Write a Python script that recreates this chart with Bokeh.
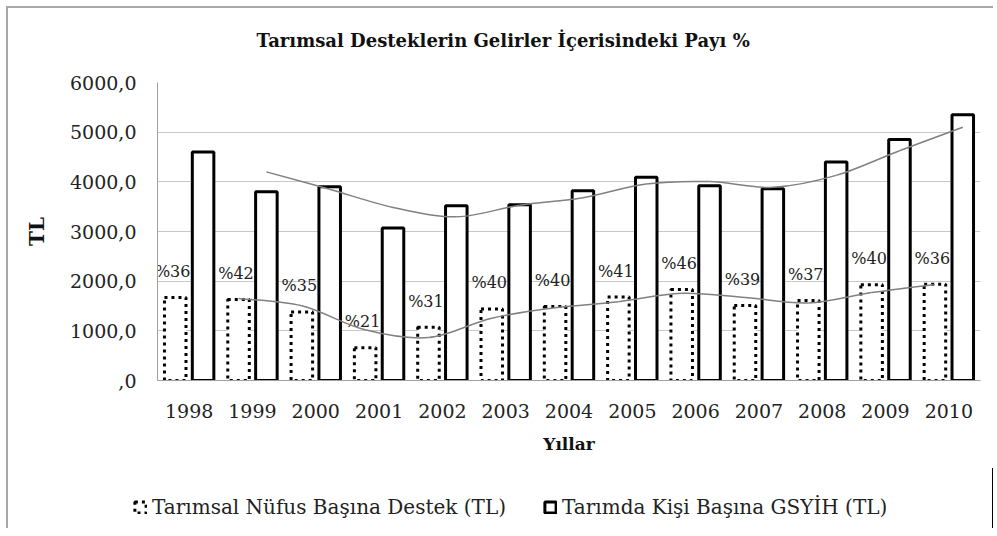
import numpy as np
from bokeh.plotting import figure
from bokeh.layouts import column
from bokeh.models import (ColumnDataSource, Range1d, FixedTicker, Legend, LegendItem,
                          Label)
from bokeh.transform import dodge
from bokeh.core.properties import value
from bokeh.embed import file_html
from bokeh.resources import INLINE

# ---- data ----
years = [1998, 1999, 2000, 2001, 2002, 2003, 2004, 2005, 2006, 2007, 2008, 2009, 2010]
year_labels = ["1998", "1999", "2000", "2001", "2002", "2003", "2004", "2005",
               "2006", "2007", "2008", "2009", "2010"]
destek = [1670, 1630, 1380, 660, 1070, 1440, 1490, 1680, 1830, 1510, 1610, 1930, 1940]
gsyih = [4600, 3800, 3900, 3070, 3520, 3540, 3820, 4090, 3920, 3860, 4400, 4850, 5350]
pay_labels = ["%36", "%42", "%35", "%21", "%31", "%40", "%40", "%41", "%46", "%39",
              "%37", "%40", "%36"]
y_ticks = [0, 1000, 2000, 3000, 4000, 5000, 6000]
y_tick_labels = [",0", "1000,0", "2000,0", "3000,0", "4000,0", "5000,0", "6000,0"]

title_text = "Tarımsal Desteklerin Gelirler İçerisindeki Payı %"
series_names = ["Tarımsal Nüfus Başına Destek (TL)", "Tarımda Kişi Başına GSYİH (TL)"]

FONT = "DejaVu Serif"
OFF = 0.22
BW = 0.34
BAR_STYLES = [dict(fill_color="white", line_color="black", line_width=3, line_dash="3 4"),
              dict(fill_color="white", line_color="black", line_width=3)]
W = 985

src = ColumnDataSource(dict(year=years, destek=destek, gsyih=gsyih, pay=pay_labels))


def strip(height):
    f = figure(width=W, height=height, output_backend="svg", toolbar_location=None,
               x_range=Range1d(0, 1), y_range=Range1d(0, 1),
               x_axis_type=None, y_axis_type=None,
               min_border_left=0, min_border_right=0, min_border_top=0,
               min_border_bottom=0)
    f.outline_line_color = None
    f.border_fill_color = "white"
    f.background_fill_color = "white"
    f.frame_align = False
    return f


# ---- title strip ----
pt = strip(50)
pt.add_layout(Label(x=248, y=18, x_units="screen", y_units="screen", text=title_text,
                    text_font=FONT, text_font_style="bold", text_font_size="18px",
                    text_color="#111111", text_align="left", text_baseline="middle"))

# ---- main chart ----
p = figure(width=W, height=410, output_backend="svg", toolbar_location=None,
           x_range=Range1d(1997.5, 2010.5), y_range=Range1d(0, 6000),
           min_border_left=149, min_border_right=13, min_border_top=24,
           min_border_bottom=88)
p.frame_align = False
p.outline_line_color = None
p.background_fill_color = "white"
p.border_fill_color = "white"

p.yaxis.ticker = FixedTicker(ticks=y_ticks)
p.yaxis.major_label_overrides = {t: l for t, l in zip(y_ticks, y_tick_labels)}
p.xaxis.ticker = FixedTicker(ticks=years)
p.xaxis.major_label_overrides = {y: l for y, l in zip(years, year_labels)}
for ax in (p.xaxis, p.yaxis):
    ax.axis_line_color = "#a0a0a0"
    ax.major_tick_line_color = None
    ax.minor_tick_line_color = None
    ax.major_label_text_font = FONT
    ax.major_label_text_font_size = "19px"
    ax.major_label_text_color = "#222222"
    ax.axis_label_text_font = FONT
    ax.axis_label_text_font_style = "bold"
    ax.axis_label_text_color = "#111111"
p.yaxis.major_label_standoff = 15
p.xaxis.major_label_standoff = 17
p.yaxis.axis_label = "TL"
p.yaxis.axis_label_text_font_size = "20px"
p.yaxis.axis_label_standoff = 18
p.xaxis.axis_label = "Yıllar"
p.xaxis.axis_label_text_font_size = "17px"
p.xaxis.axis_label_standoff = 13

p.xgrid.grid_line_color = None
p.ygrid.grid_line_color = "#c8c8c8"
p.ygrid.grid_line_width = 1

p.vbar(x=dodge("year", -OFF), top="destek", width=BW, source=src, **BAR_STYLES[0])
p.text(x=dodge("year", -OFF - 0.04), y="destek", text="pay", source=src,
       text_font=value(FONT), text_font_size="16px", text_color="#222222",
       text_align="center", text_baseline="middle", y_offset=-26)
p.vbar(x=dodge("year", OFF), top="gsyih", width=BW, source=src, **BAR_STYLES[1])


# moving-average (period 2) trend lines, smoothed
def smooth_segments(xs, ys):
    xs = np.asarray(xs, float)
    ys = np.asarray(ys, float)
    n = len(xs)
    qx = np.concatenate([[xs[0]], xs, [xs[-1]]])
    qy = np.concatenate([[ys[0]], ys, [ys[-1]]])
    cx0 = qx[1:n] + (qx[2:n + 1] - qx[0:n - 1]) / 6
    cy0 = qy[1:n] + (qy[2:n + 1] - qy[0:n - 1]) / 6
    cx1 = qx[2:n + 1] - (qx[3:n + 2] - qx[1:n]) / 6
    cy1 = qy[2:n + 1] - (qy[3:n + 2] - qy[1:n]) / 6
    return dict(x0=xs[:-1], y0=ys[:-1], x1=xs[1:], y1=ys[1:],
                cx0=cx0, cy0=cy0, cx1=cx1, cy1=cy1)


yrs = np.asarray(years, float)
for vals, off in ((destek, -OFF), (gsyih, OFF)):
    v = np.asarray(vals, float)
    ma = (v[1:] + v[:-1]) / 2
    seg = smooth_segments(yrs[1:] + off, ma)
    p.bezier(source=ColumnDataSource(seg), x0="x0", y0="y0", x1="x1", y1="y1",
             cx0="cx0", cy0="cy0", cx1="cx1", cy1="cy1",
             line_color="#808080", line_width=1.5)

# ---- legend strip ----
pl = strip(60)
items = []
for name, col, off, st in zip(series_names, ("destek", "gsyih"), (-OFF, OFF), BAR_STYLES):
    # same series, outside this strip's visible range: used only for the legend swatch
    r = pl.vbar(x=dodge("year", off), top=col, width=BW, source=src, **st)
    items.append(LegendItem(label=name, renderers=[r]))
legend = Legend(items=items, orientation="horizontal", location=(125, 9),
                padding=0, margin=0, spacing=37, label_standoff=5,
                glyph_width=14, glyph_height=14,
                label_text_font=FONT, label_text_font_size="20px",
                label_text_color="#222222",
                border_line_color=None, background_fill_alpha=0)
pl.add_layout(legend, "center")

layout = column(pt, p, pl, spacing=0)
layout.styles = {"border-top": "2px solid #a8a8a8", "border-left": "2px solid #a8a8a8",
                 "margin-left": "6px", "margin-top": "6px"}

open("out.html", "w").write(file_html(layout, INLINE))
